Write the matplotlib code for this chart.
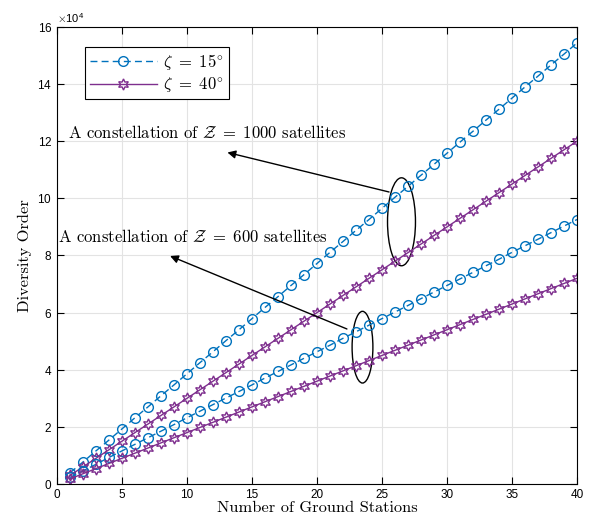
import matplotlib
matplotlib.use('Agg')
import matplotlib.pyplot as plt
import numpy as np
from matplotlib.patches import Ellipse
from matplotlib.ticker import ScalarFormatter

plt.rcParams['mathtext.fontset'] = 'cm'
plt.rcParams['font.family'] = ['Liberation Sans', 'DejaVu Sans']

stations = list(range(1, 41))

# diversity order, in units of 1e4
z1000_15 = [0.39, 0.77, 1.16, 1.54, 1.93, 2.32, 2.70, 3.09, 3.47, 3.86,
            4.25, 4.63, 5.02, 5.40, 5.79, 6.18, 6.56, 6.95, 7.33, 7.72,
            8.11, 8.49, 8.88, 9.26, 9.65, 10.04, 10.42, 10.81, 11.19, 11.58,
            11.97, 12.35, 12.74, 13.12, 13.51, 13.90, 14.28, 14.67, 15.05, 15.44]
z1000_40 = [0.30, 0.60, 0.90, 1.20, 1.50, 1.80, 2.10, 2.40, 2.70, 3.00,
            3.30, 3.60, 3.90, 4.20, 4.50, 4.80, 5.10, 5.40, 5.70, 6.00,
            6.30, 6.60, 6.90, 7.20, 7.50, 7.80, 8.10, 8.40, 8.70, 9.00,
            9.30, 9.60, 9.90, 10.20, 10.50, 10.80, 11.10, 11.40, 11.70, 12.00]
z600_15 = [0.23, 0.46, 0.69, 0.93, 1.16, 1.39, 1.62, 1.85, 2.08, 2.32,
           2.55, 2.78, 3.01, 3.24, 3.47, 3.71, 3.94, 4.17, 4.40, 4.63,
           4.86, 5.10, 5.33, 5.56, 5.79, 6.02, 6.25, 6.49, 6.72, 6.95,
           7.18, 7.41, 7.64, 7.87, 8.11, 8.34, 8.57, 8.80, 9.03, 9.26]
z600_40 = [0.18, 0.36, 0.54, 0.72, 0.90, 1.08, 1.26, 1.44, 1.62, 1.80,
           1.98, 2.16, 2.34, 2.52, 2.70, 2.88, 3.06, 3.24, 3.42, 3.60,
           3.78, 3.96, 4.14, 4.32, 4.50, 4.68, 4.86, 5.04, 5.22, 5.40,
           5.58, 5.76, 5.94, 6.12, 6.30, 6.48, 6.66, 6.84, 7.02, 7.20]

blue = '#0072BD'
purple = '#7E2F8E'
scale = 1e4

fig = plt.figure(figsize=(5.89, 5.15), dpi=100)
ax = fig.add_axes([0.0968, 0.0602, 0.8828, 0.8874])

circ = dict(color=blue, ls=(0, (5, 3)), lw=1.0, marker='o', ms=7, mfc='none', mew=1.0)
star = dict(color=purple, ls='-', lw=1.0, marker=(6, 1, 0), ms=8, mfc='none', mew=1.0)

x = np.array(stations)
ax.plot(x, np.array(z1000_15) * scale, label=r'$\zeta\ =\ 15^{\circ}$', **circ)
ax.plot(x, np.array(z1000_40) * scale, label=r'$\zeta\ =\ 40^{\circ}$', **star)
ax.plot(x, np.array(z600_15) * scale, **circ)
ax.plot(x, np.array(z600_40) * scale, **star)

ax.set_xlim(0, 40)
ax.set_ylim(0, 16e4)
ax.set_xticks(range(0, 41, 5))
ax.set_yticks(np.arange(0, 16.1e4, 2e4))
fmt = ScalarFormatter(useMathText=True)
fmt.set_powerlimits((4, 4))
ax.yaxis.set_major_formatter(fmt)
ax.yaxis.get_offset_text().set_fontsize(8)
ax.tick_params(direction='in', top=True, right=True, labelsize=8.5, length=5, width=0.8)
ax.grid(True, color='#e3e3e3', lw=0.8)
ax.set_axisbelow(True)
for s in ax.spines.values():
    s.set_linewidth(0.8)

ax.set_xlabel('Number of Ground Stations', family='cmr10', fontsize=11.8, labelpad=0)
ax.set_ylabel('Diversity Order', family='cmr10', fontsize=11.8, labelpad=4)

# annotations
ax.add_patch(Ellipse((26.5, 9.18e4), 2.15, 3.08e4, fill=False, ec='black', lw=1.0))
ax.add_patch(Ellipse((23.5, 4.79e4), 1.6, 2.51e4, fill=False, ec='black', lw=1.0))
ax.annotate('', xy=(12.9, 11.63e4), xytext=(25.75, 10.2e4),
            arrowprops=dict(arrowstyle='-|>', color='black', lw=1.0, mutation_scale=12))
ax.annotate('', xy=(8.5, 8.02e4), xytext=(22.5, 5.39e4),
            arrowprops=dict(arrowstyle='-|>', color='black', lw=1.0, mutation_scale=12))
ax.text(0.85, 12.3e4, r'A constellation of $\mathcal{Z}\ =\ 1000$ satellites',
        family='cmr10', fontsize=12, va='center')
ax.text(0.05, 8.68e4, r'A constellation of $\mathcal{Z}\ =\ 600$ satellites',
        family='cmr10', fontsize=12, va='center')

leg = ax.legend(loc='upper left', bbox_to_anchor=(0.054, 0.956), fontsize=12,
                fancybox=False, edgecolor='black', framealpha=1, handlelength=4,
                borderpad=0.3, labelspacing=0.2, handletextpad=0.4, borderaxespad=0)
leg.get_frame().set_linewidth(0.8)

fig.savefig('out.png', dpi=100)
